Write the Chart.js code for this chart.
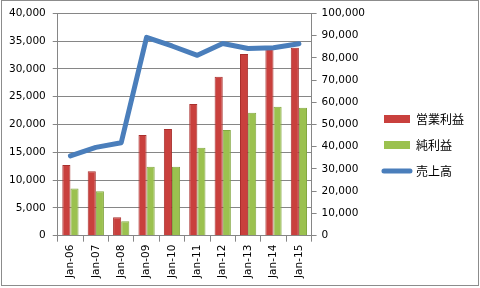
<!DOCTYPE html>
<html>
<head>
<meta charset="utf-8">
<script src="https://cdn.jsdelivr.net/npm/chart.js@4/dist/chart.umd.min.js"></script>
<style>
  html, body { margin: 0; padding: 0; background: #fff; }
  #wrap { width: 480px; height: 288px; position: relative; }
</style>
</head>
<body>
<div id="wrap"><canvas id="salesChart"></canvas></div>
<script>
const years = ['Jan-06', 'Jan-07', 'Jan-08', 'Jan-09', 'Jan-10', 'Jan-11', 'Jan-12', 'Jan-13', 'Jan-14', 'Jan-15'];
const operatingProfit = [12700, 11600, 3300, 18100, 19200, 23700, 28600, 32700, 33600, 33800];
const netProfit = [8500, 8000, 2600, 12400, 12400, 15800, 19000, 22100, 23200, 23000];
const sales = [35900, 39700, 41800, 89200, 85300, 81100, 86400, 84200, 84500, 86300];

const tickFont = { family: 'DejaVu Sans', size: 10.5 };
const axisGray = '#868686';

// thin grey frame round the whole picture
const framePlugin = {
    id: 'frame',
    afterDraw(chart) {
        const ctx = chart.ctx;
        ctx.save();
        ctx.strokeStyle = '#8c8c8c';
        ctx.lineWidth = 1;
        ctx.strokeRect(1.5, 0.5, 477, 285);
        ctx.restore();
    }
};

new Chart(document.getElementById('salesChart').getContext('2d'), {
    data: {
        labels: years,
        datasets: [
            { type: 'bar', label: '営業利益', data: operatingProfit, yAxisID: 'y', order: 1,
              backgroundColor: '#c9403d', borderColor: '#a9302e', borderWidth: 1, legendColor: '#c9403d' },
            { type: 'bar', label: '純利益', data: netProfit, yAxisID: 'y', order: 1,
              backgroundColor: '#9bc14f', borderColor: '#84a842', borderWidth: 1, legendColor: '#9bc14f' },
            { type: 'line', label: '売上高', data: sales, yAxisID: 'y2', order: 0,
              borderColor: '#4a7ebb', borderWidth: 5, pointRadius: 0, tension: 0,
              borderCapStyle: 'round', borderJoinStyle: 'round', legendColor: '#4a7ebb' }
        ]
    },
    options: {
        responsive: true, maintainAspectRatio: false, animation: false,
        layout: { padding: { top: 9, left: 2, right: 6, bottom: 7 } },
        datasets: { bar: { categoryPercentage: 0.64, barPercentage: 1.0 } },
        scales: {
            x: {
                offset: true,
                grid: { display: true, offset: true, drawOnChartArea: false, color: axisGray, tickLength: 6 },
                border: { color: axisGray },
                ticks: { color: '#000', font: tickFont, minRotation: 90, maxRotation: 90, padding: 3, autoSkip: false }
            },
            y: {
                position: 'left', min: 0, max: 40000,
                grid: { color: axisGray, tickLength: 5 },
                border: { color: axisGray },
                ticks: { stepSize: 5000, color: '#000', font: tickFont, padding: 7,
                         callback: v => v.toLocaleString('en-US') }
            },
            y2: {
                position: 'right', min: 0, max: 100000,
                grid: { drawOnChartArea: false, color: axisGray, tickLength: 5 },
                border: { color: axisGray },
                ticks: { stepSize: 10000, color: '#000', font: tickFont, padding: 5,
                         callback: v => v.toLocaleString('en-US') }
            }
        },
        plugins: {
            tooltip: { enabled: false },
            legend: {
                position: 'right',
                maxWidth: 130,
                labels: {
                    usePointStyle: true, pointStyleWidth: 26, boxHeight: 8, padding: 14,
                    color: '#000', font: { family: 'Noto Sans CJK JP', size: 12 },
                    generateLabels: chart => chart.data.datasets.map((ds, i) => ({
                        text: ds.label,
                        fillStyle: ds.legendColor,
                        strokeStyle: ds.legendColor,
                        lineWidth: ds.type === 'line' ? 5 : 0,
                        lineCap: 'round',
                        pointStyle: ds.type === 'line' ? 'line' : 'rect',
                        fontColor: '#000',
                        hidden: false,
                        datasetIndex: i
                    }))
                }
            }
        }
    },
    plugins: [framePlugin]
});
</script>
</body>
</html>
